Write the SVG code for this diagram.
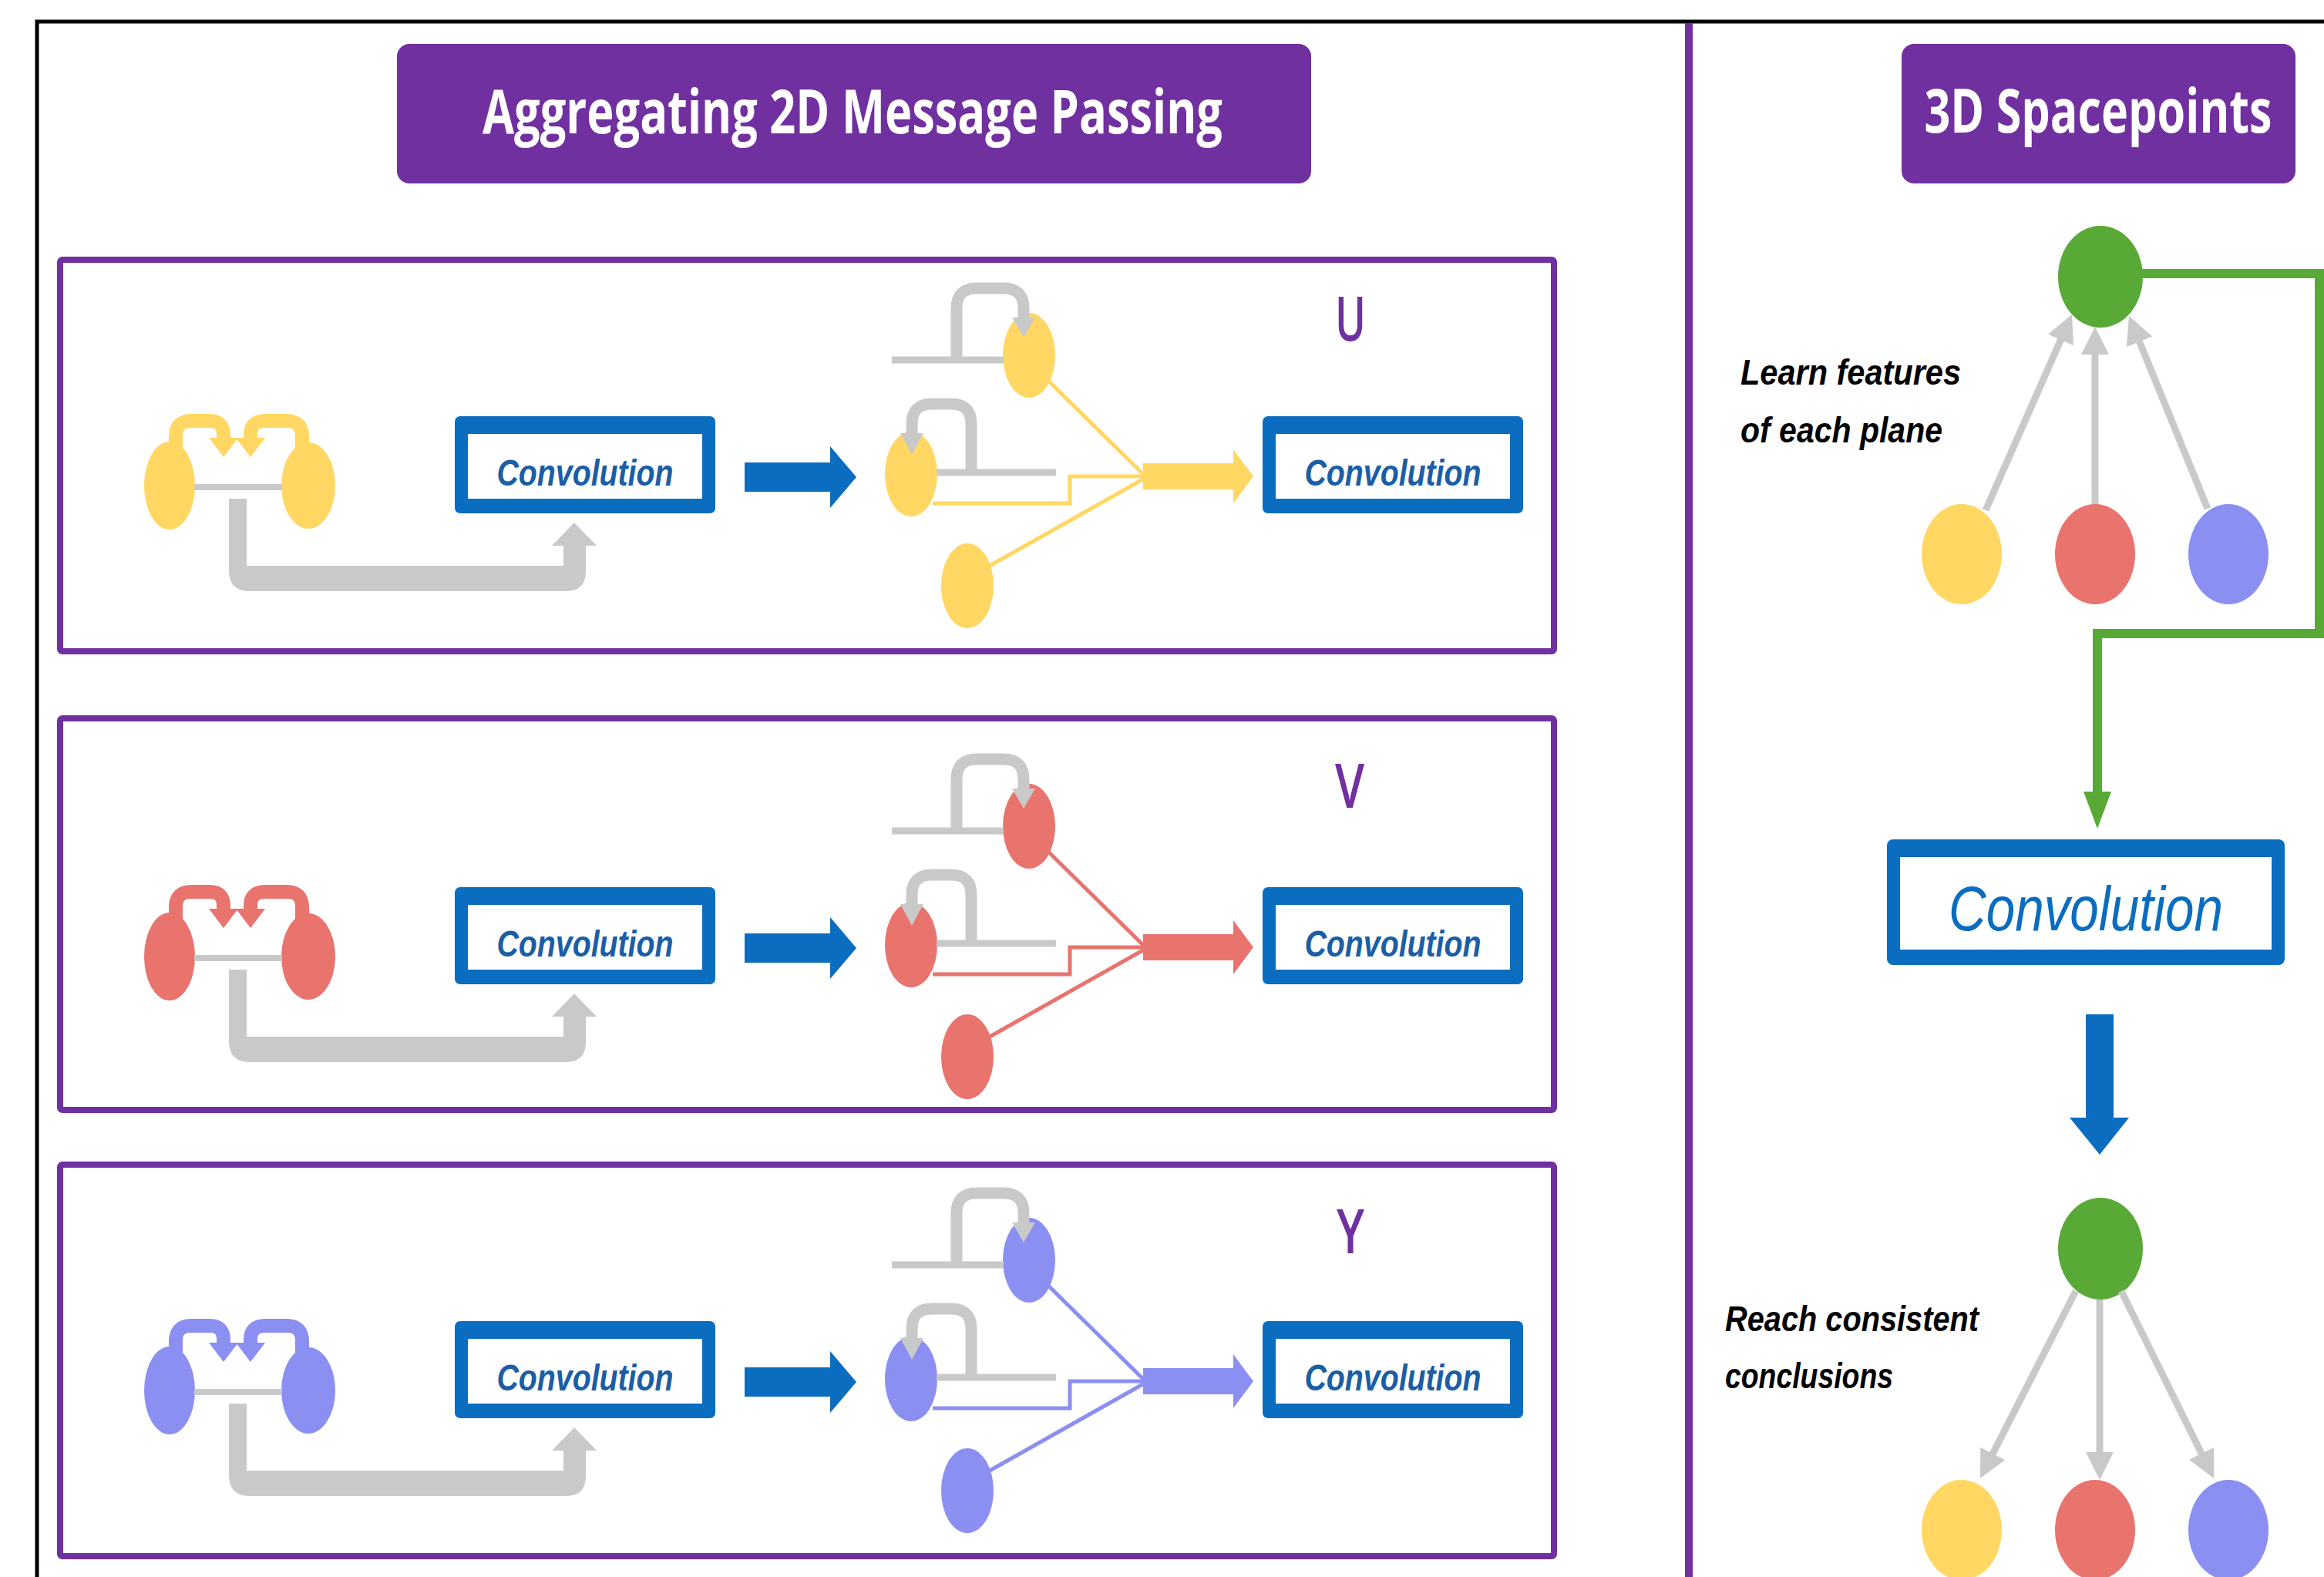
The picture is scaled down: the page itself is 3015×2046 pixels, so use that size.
<svg xmlns="http://www.w3.org/2000/svg" width="3015" height="2046" viewBox="0 0 3015 2046">
<defs>
<style>
.panel{fill:none;stroke:#7030A0;stroke-width:8}
.title{fill:#7030A0}
.ttl{font-family:"Open Sans","Liberation Sans",sans-serif;font-weight:700;font-size:78px;fill:#fff}
.cb{fill:#0B6DBF}
.ci{fill:#fff}
.ct{font-family:"Liberation Sans",Arial,sans-serif;font-weight:bold;font-style:italic;font-size:48px;fill:#1B5EA6}
.ctb{font-family:"Liberation Sans",Arial,sans-serif;font-style:italic;font-size:82px;fill:#0B6DBF}
.lab{font-family:"Open Sans","Liberation Sans",sans-serif;font-weight:600;font-size:80px;fill:#7030A0}
.note{font-family:"Liberation Sans",Arial,sans-serif;font-weight:bold;font-style:italic;font-size:46px;fill:#000}
.fy{fill:#FFD762}.fr{fill:#E9736D}.fb{fill:#8B8FF2}.fg{fill:#58A935}
.sy{stroke:#FFD762;fill:none}.sr{stroke:#E9736D;fill:none}.sb{stroke:#8B8FF2;fill:none}
.gl{stroke:#C9C9C9;fill:none}
.gf{fill:#C9C9C9}
.gw{stroke:#C9C9C9;stroke-width:9;fill:none}
</style>
<marker id="gh" viewBox="0 0 36 36" refX="10" refY="18" markerWidth="36" markerHeight="36" markerUnits="userSpaceOnUse" orient="auto">
<path d="M0,0 L36,18 L0,36 Z" fill="#C9C9C9"/>
</marker>
</defs>
<rect x="0" y="0" width="3015" height="2046" fill="#fff"/>
<path d="M48,2046 V28 H3015" stroke="#000" stroke-width="5" fill="none"/>
<line x1="2191" y1="30" x2="2191" y2="2046" stroke="#7030A0" stroke-width="10"/>

<g id="title-left"><rect class="title" x="515" y="57" width="1186" height="181" rx="16"/><text class="ttl" x="1106" y="173" text-anchor="middle" textLength="960" lengthAdjust="spacingAndGlyphs">Aggregating 2D Message Passing</text></g>
<g id="title-right"><rect class="title" x="2467" y="57" width="511" height="181" rx="16"/><g transform="translate(2722,172) scale(0.76,1)"><text class="ttl" x="0" y="0" text-anchor="middle">3D Spacepoints</text></g></g>

<g id="panel-u-frame"><rect class="panel" x="78" y="337" width="1938" height="508" rx="3"/></g>
<g id="panel-v-frame"><rect class="panel" x="78" y="932" width="1938" height="508" rx="3"/></g>
<g id="panel-y-frame"><rect class="panel" x="78" y="1511" width="1938" height="508" rx="3"/></g>

<!-- Panel U nodes -->
<g id="panel-u">
<g id="u-a" class="fy"><ellipse cx="220" cy="630" rx="33" ry="57"/></g>
<g id="u-b" class="fy"><ellipse cx="400" cy="630" rx="35" ry="56"/></g>
<g id="u-conv1"><rect class="cb" x="590" y="540" width="338" height="126" rx="7"/><rect class="ci" x="607" y="563" width="304" height="84"/><text class="ct" x="759" y="630" text-anchor="middle" textLength="229" lengthAdjust="spacingAndGlyphs">Convolution</text></g>
<g id="u-n1" class="fy"><ellipse cx="1335" cy="461" rx="34" ry="55"/></g>
<g id="u-n2" class="fy"><ellipse cx="1182" cy="615" rx="34" ry="55"/></g>
<g id="u-n3" class="fy"><ellipse cx="1255" cy="760" rx="34" ry="55"/></g>
<g id="u-conv2"><rect class="cb" x="1638" y="540" width="338" height="126" rx="7"/><rect class="ci" x="1655" y="563" width="304" height="84"/><text class="ct" x="1807" y="630" text-anchor="middle" textLength="229" lengthAdjust="spacingAndGlyphs">Convolution</text></g>
<g id="u-label"><text class="lab" x="1752" y="442" text-anchor="middle" textLength="40" lengthAdjust="spacingAndGlyphs">U</text></g>
</g>

<!-- Panel V nodes -->
<g id="panel-v" transform="translate(0,611)">
<g id="v-a" class="fr"><ellipse cx="220" cy="630" rx="33" ry="57"/></g>
<g id="v-b" class="fr"><ellipse cx="400" cy="630" rx="35" ry="56"/></g>
<g id="v-conv1"><rect class="cb" x="590" y="540" width="338" height="126" rx="7"/><rect class="ci" x="607" y="563" width="304" height="84"/><text class="ct" x="759" y="630" text-anchor="middle" textLength="229" lengthAdjust="spacingAndGlyphs">Convolution</text></g>
<g id="v-n1" class="fr"><ellipse cx="1335" cy="461" rx="34" ry="55"/></g>
<g id="v-n2" class="fr"><ellipse cx="1182" cy="615" rx="34" ry="55"/></g>
<g id="v-n3" class="fr"><ellipse cx="1255" cy="760" rx="34" ry="55"/></g>
<g id="v-conv2"><rect class="cb" x="1638" y="540" width="338" height="126" rx="7"/><rect class="ci" x="1655" y="563" width="304" height="84"/><text class="ct" x="1807" y="630" text-anchor="middle" textLength="229" lengthAdjust="spacingAndGlyphs">Convolution</text></g>
<g id="v-label"><text class="lab" x="1751" y="437" text-anchor="middle" textLength="38" lengthAdjust="spacingAndGlyphs">V</text></g>
</g>

<!-- Panel Y nodes -->
<g id="panel-y" transform="translate(0,1174)">
<g id="y-a" class="fb"><ellipse cx="220" cy="630" rx="33" ry="57"/></g>
<g id="y-b" class="fb"><ellipse cx="400" cy="630" rx="35" ry="56"/></g>
<g id="y-conv1"><rect class="cb" x="590" y="540" width="338" height="126" rx="7"/><rect class="ci" x="607" y="563" width="304" height="84"/><text class="ct" x="759" y="630" text-anchor="middle" textLength="229" lengthAdjust="spacingAndGlyphs">Convolution</text></g>
<g id="y-n1" class="fb"><ellipse cx="1335" cy="461" rx="34" ry="55"/></g>
<g id="y-n2" class="fb"><ellipse cx="1182" cy="615" rx="34" ry="55"/></g>
<g id="y-n3" class="fb"><ellipse cx="1255" cy="760" rx="34" ry="55"/></g>
<g id="y-conv2"><rect class="cb" x="1638" y="540" width="338" height="126" rx="7"/><rect class="ci" x="1655" y="563" width="304" height="84"/><text class="ct" x="1807" y="630" text-anchor="middle" textLength="229" lengthAdjust="spacingAndGlyphs">Convolution</text></g>
<g id="y-label"><text class="lab" x="1752" y="452" text-anchor="middle" textLength="36" lengthAdjust="spacingAndGlyphs">Y</text></g>
</g>

<!-- Right side nodes -->
<g id="sp-green-top" class="fg"><ellipse cx="2725" cy="359" rx="55" ry="66"/></g>
<g id="sp-yellow-top" class="fy"><ellipse cx="2545" cy="719" rx="52" ry="65"/></g>
<g id="sp-red-top" class="fr"><ellipse cx="2718" cy="719" rx="52" ry="65"/></g>
<g id="sp-blue-top" class="fb"><ellipse cx="2891" cy="719" rx="52" ry="65"/></g>
<g id="sp-conv"><rect class="cb" x="2448" y="1089" width="516" height="163" rx="8"/><rect class="ci" x="2465" y="1112" width="482" height="120"/><text class="ctb" x="2706" y="1207" text-anchor="middle" textLength="356" lengthAdjust="spacingAndGlyphs">Convolution</text></g>
<g id="sp-green-bot" class="fg"><ellipse cx="2725" cy="1620" rx="55" ry="66"/></g>
<g id="sp-yellow-bot" class="fy"><ellipse cx="2545" cy="1985" rx="52" ry="65"/></g>
<g id="sp-red-bot" class="fr"><ellipse cx="2718" cy="1985" rx="52" ry="65"/></g>
<g id="sp-blue-bot" class="fb"><ellipse cx="2891" cy="1985" rx="52" ry="65"/></g>
<g id="note-learn"><text class="note" x="2258" y="499" textLength="286" lengthAdjust="spacingAndGlyphs">Learn features</text><text class="note" x="2258" y="574" textLength="262" lengthAdjust="spacingAndGlyphs">of each plane</text></g>
<g id="note-reach"><text class="note" x="2238" y="1727" textLength="329" lengthAdjust="spacingAndGlyphs">Reach consistent</text><text class="note" x="2238" y="1801" textLength="218" lengthAdjust="spacingAndGlyphs">conclusions</text></g>

<!-- Connectors -->
<g id="connectors">
<g id="conn-u">
<path class="sy" stroke-width="18" d="M228,600 V566 Q228,546 248,546 H272 Q290,546 290,564 V570"/>
<polygon class="fy" points="271,568 309,568 290,593"/>
<path class="sy" stroke-width="18" d="M392,600 V566 Q392,546 372,546 H344 Q325,546 325,564 V570"/>
<polygon class="fy" points="306,568 344,568 325,593"/>
<line class="gl" stroke-width="8" x1="252" y1="632" x2="366" y2="632"/>
<path class="gf" d="M297,647 V740 Q297,767 324,767 H734 Q760,767 760,741 V708 H774 L745,678 L716,708 H731 V734 H320 V647 Z"/>
<polygon class="cb" points="966,600 1077,600 1077,579 1111,619 1077,659 1077,638 966,638"/>
<line class="gl" stroke-width="9" x1="1157" y1="467" x2="1302" y2="467"/>
<path class="gl" stroke-width="15" d="M1241,467 V400 Q1241,374 1267,374 H1302 Q1328,374 1328,400 V414"/>
<polygon class="gf" points="1313,412 1343,412 1328,438"/>
<line class="gl" stroke-width="9" x1="1215" y1="613" x2="1370" y2="613"/>
<path class="gl" stroke-width="15" d="M1260,613 V550 Q1260,524 1234,524 H1209 Q1183,524 1183,550 V564"/>
<polygon class="gf" points="1168,562 1198,562 1183,590"/>
<path class="sy" stroke-width="5" d="M1360,494 L1486,618"/>
<path class="sy" stroke-width="5" d="M1210,653 H1388 V618 H1486"/>
<path class="sy" stroke-width="5" d="M1284,734 L1486,620"/>
<polygon class="fy" points="1483,601 1600,601 1600,583 1626,618 1600,653 1600,635 1483,635"/>
</g>
<g id="conn-v" transform="translate(0,611)">
<path class="sr" stroke-width="18" d="M228,600 V566 Q228,546 248,546 H272 Q290,546 290,564 V570"/>
<polygon class="fr" points="271,568 309,568 290,593"/>
<path class="sr" stroke-width="18" d="M392,600 V566 Q392,546 372,546 H344 Q325,546 325,564 V570"/>
<polygon class="fr" points="306,568 344,568 325,593"/>
<line class="gl" stroke-width="8" x1="252" y1="632" x2="366" y2="632"/>
<path class="gf" d="M297,647 V740 Q297,767 324,767 H734 Q760,767 760,741 V708 H774 L745,678 L716,708 H731 V734 H320 V647 Z"/>
<polygon class="cb" points="966,600 1077,600 1077,579 1111,619 1077,659 1077,638 966,638"/>
<line class="gl" stroke-width="9" x1="1157" y1="467" x2="1302" y2="467"/>
<path class="gl" stroke-width="15" d="M1241,467 V400 Q1241,374 1267,374 H1302 Q1328,374 1328,400 V414"/>
<polygon class="gf" points="1313,412 1343,412 1328,438"/>
<line class="gl" stroke-width="9" x1="1215" y1="613" x2="1370" y2="613"/>
<path class="gl" stroke-width="15" d="M1260,613 V550 Q1260,524 1234,524 H1209 Q1183,524 1183,550 V564"/>
<polygon class="gf" points="1168,562 1198,562 1183,590"/>
<path class="sr" stroke-width="5" d="M1360,494 L1486,618"/>
<path class="sr" stroke-width="5" d="M1210,653 H1388 V618 H1486"/>
<path class="sr" stroke-width="5" d="M1284,734 L1486,620"/>
<polygon class="fr" points="1483,601 1600,601 1600,583 1626,618 1600,653 1600,635 1483,635"/>
</g>
<g id="conn-y" transform="translate(0,1174)">
<path class="sb" stroke-width="18" d="M228,600 V566 Q228,546 248,546 H272 Q290,546 290,564 V570"/>
<polygon class="fb" points="271,568 309,568 290,593"/>
<path class="sb" stroke-width="18" d="M392,600 V566 Q392,546 372,546 H344 Q325,546 325,564 V570"/>
<polygon class="fb" points="306,568 344,568 325,593"/>
<line class="gl" stroke-width="8" x1="252" y1="632" x2="366" y2="632"/>
<path class="gf" d="M297,647 V740 Q297,767 324,767 H734 Q760,767 760,741 V708 H774 L745,678 L716,708 H731 V734 H320 V647 Z"/>
<polygon class="cb" points="966,600 1077,600 1077,579 1111,619 1077,659 1077,638 966,638"/>
<line class="gl" stroke-width="9" x1="1157" y1="467" x2="1302" y2="467"/>
<path class="gl" stroke-width="15" d="M1241,467 V400 Q1241,374 1267,374 H1302 Q1328,374 1328,400 V414"/>
<polygon class="gf" points="1313,412 1343,412 1328,438"/>
<line class="gl" stroke-width="9" x1="1215" y1="613" x2="1370" y2="613"/>
<path class="gl" stroke-width="15" d="M1260,613 V550 Q1260,524 1234,524 H1209 Q1183,524 1183,550 V564"/>
<polygon class="gf" points="1168,562 1198,562 1183,590"/>
<path class="sb" stroke-width="5" d="M1360,494 L1486,618"/>
<path class="sb" stroke-width="5" d="M1210,653 H1388 V618 H1486"/>
<path class="sb" stroke-width="5" d="M1284,734 L1486,620"/>
<polygon class="fb" points="1483,601 1600,601 1600,583 1626,618 1600,653 1600,635 1483,635"/>
</g>
<g id="conn-3d">
<line class="gw" x1="2576" y1="662" x2="2677.5" y2="431.8" marker-end="url(#gh)"/>
<line class="gw" x1="2718" y1="654" x2="2718" y2="450" marker-end="url(#gh)"/>
<line class="gw" x1="2864" y1="660" x2="2771.8" y2="434.1" marker-end="url(#gh)"/>
<path d="M2779,355 H3009 V822 H2721 V1030" stroke="#58A935" stroke-width="12" fill="none"/>
<polygon class="fg" points="2703,1027 2739,1027 2721,1075"/>
<polygon class="cb" points="2706,1316 2742,1316 2742,1450 2762,1450 2724,1498 2685,1450 2706,1450"/>
<line class="gw" x1="2693" y1="1675" x2="2580.8" y2="1894.8" marker-end="url(#gh)"/>
<line class="gw" x1="2724" y1="1686" x2="2724" y2="1894" marker-end="url(#gh)"/>
<line class="gw" x1="2752" y1="1675" x2="2860.5" y2="1894.7" marker-end="url(#gh)"/>
</g>
</g>
</svg>
